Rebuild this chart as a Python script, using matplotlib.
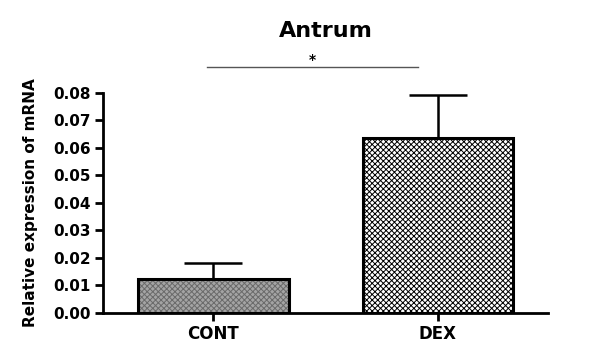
import numpy as np
import matplotlib
matplotlib.use('Agg')
import matplotlib.pyplot as plt

# Data
groups = ['CONT', 'DEX']
means  = [0.0125, 0.0637]
sems   = [0.0058, 0.0156]
yticks = [0.00, 0.01, 0.02, 0.03, 0.04, 0.05, 0.06, 0.07, 0.08]

plt.rcParams['font.family'] = ['DejaVu Sans']
plt.rcParams['font.weight'] = 'bold'
plt.rcParams['hatch.linewidth'] = 0.7

fig = plt.figure(figsize=(6.15, 3.47), dpi=100)
ax = fig.add_axes([0.168, 0.098, 0.723, 0.634])

x = np.arange(len(groups))
# hatched fill first (hatch colour = edge colour), then black outline on top
fill = ax.bar(x, means, width=0.67, color=['#a4a4a4', 'white'],
              edgecolor=['#6a6a6a', 'black'], linewidth=0, zorder=2)
fill[0].set_hatch('xxxxxx')
fill[1].set_hatch('xxxxxx')
ax.bar(x, means, width=0.67, color='none', edgecolor='black',
       linewidth=2.2, zorder=3)
# error bars (upper only)
ax.errorbar(x, means, yerr=[np.zeros(len(sems)), sems], fmt='none',
            ecolor='black', elinewidth=1.8, capsize=21, capthick=1.8,
            zorder=1, clip_on=False)

ax.set_xlim(-0.49, 1.49)
ax.set_ylim(0, 0.08)
ax.set_yticks(yticks)
ax.set_yticklabels(['%.2f' % t for t in yticks], fontsize=11, fontweight='bold')
ax.set_xticks(x)
ax.set_xticklabels(groups, fontsize=12, fontweight='bold')
ax.set_ylabel('Relative expression of mRNA', fontsize=11, fontweight='bold', labelpad=11)

for s in ['top', 'right']:
    ax.spines[s].set_visible(False)
for s in ['left', 'bottom']:
    ax.spines[s].set_linewidth(2)
ax.tick_params(axis='both', width=2, length=6, pad=3)

# significance bar
ax.plot([-0.03, 0.91], [0.0895, 0.0895], color='#555555', lw=1, clip_on=False)
ax.text(0.44, 0.0893, '*', ha='center', va='bottom', fontsize=10, fontweight='bold')

ax.set_title('Antrum', fontsize=16, fontweight='bold', pad=40)

fig.savefig('out.png', dpi=100)
